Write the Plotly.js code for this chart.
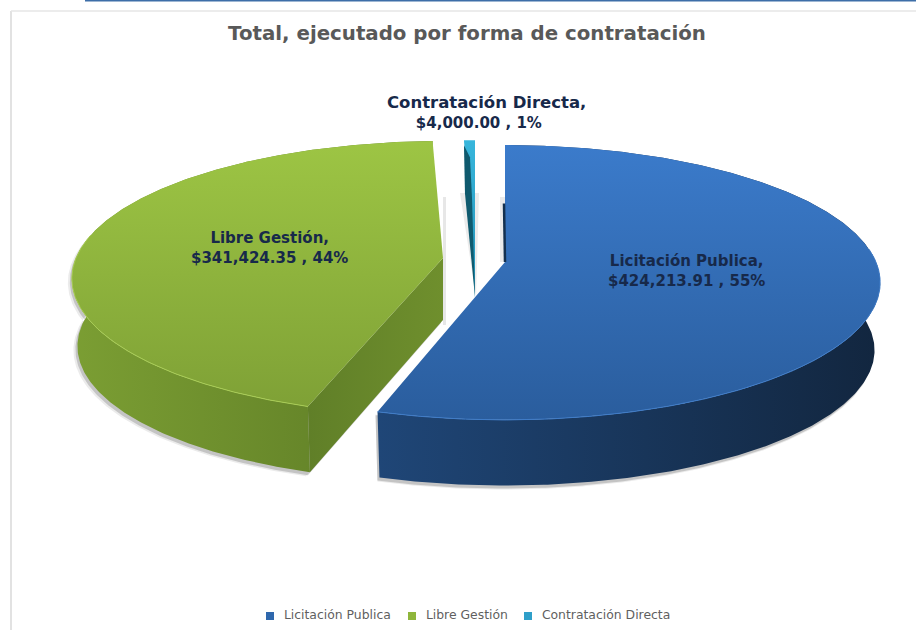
<!DOCTYPE html>
<html>
<head>
<meta charset="utf-8">
<script src="https://cdn.plot.ly/plotly-3.0.1.min.js"></script>
<style>html,body{margin:0;padding:0;background:#fff}#chart{width:916px;height:630px}</style>
</head>
<body>
<div id="chart"></div>
<script>
const categories = ['Licitación Publica', 'Libre Gestión', 'Contratación Directa'];
const values = [424213.91, 341424.35, 4000.00];
const amountLabels = ['$424,213.91', '$341,424.35', '$4,000.00'];
const percentLabels = ['55%', '44%', '1%'];
const legendColors = ['#2f68ad', '#8fb63c', '#2f9fc9'];

// Perspective view of the pie: slices are placed from the values
const K = 0.149, RY = 134.4, DEPTH = 68, RING = 0.985;
const geom = [
  {cx: 505, cy: 262, rx: 371, sc: 1, warp: 0.9935},
  {cx: 443, cy: 258, rx: 367, sc: 1, warp: 1},
  {cx: 475, cy: 297, rx: 290, sc: 1.34, warp: 1}
];
const total = values.reduce((a, b) => a + b, 0);
const pt = (g, deg, ring, dy) => {
  const t = deg * g.warp * Math.PI / 180, u = Math.sin(t), v = Math.cos(t);
  const s = g.sc / (1 + K * v) * ring;
  return [g.cx + g.rx * u * s, g.cy - RY * v * s + dy];
};
const arc = (g, a, b, ring, dy) => {
  const n = Math.max(2, Math.ceil(Math.abs(b - a) * 2)), out = [];
  for (let i = 0; i <= n; i++) out.push(pt(g, a + (b - a) * i / n, ring, dy));
  return out;
};
let acc = 0;
const spans = values.map(val => { const a = acc; acc += val / total * 360; return [a, acc]; });

const poly = (pts, extra) => Object.assign({
  x: pts.map(p => p[0]), y: pts.map(p => p[1]), mode: 'lines', fill: 'toself',
  line: {width: 0}, hoverinfo: 'skip', showlegend: false, type: 'scatter'
}, extra);
const grad = (type, c0, c1) => ({type, colorscale: [[0, c0], [1, c1]]});
const moved = (pts, dx, dy) => pts.map(p => [p[0] + dx, p[1] + dy]);

const wallOf = (g, a, b) => arc(g, a, b, 1, 0).concat(arc(g, b, a, RING, DEPTH));
const cutOf = (g, deg) => {
  const o = pt(g, deg, 1, 0), ob = pt(g, deg, RING, DEPTH);
  return [o, [g.cx, g.cy], [g.cx, g.cy + DEPTH - 6], ob];
};
const topOf = (g, a, b) => [[g.cx, g.cy]].concat(arc(g, a, b, 1, 0));

const [gBlue, gGreen, gCyan] = geom;
const [sBlue, sGreen, sCyan] = spans;
const traces = [];

// soft shadows
[[-4, 4, 'rgba(60,60,60,0.10)'], [-2, 3, 'rgba(60,60,60,0.22)']].forEach(([dx, dy, c]) => {
  traces.push(poly(moved(wallOf(gGreen, sGreen[0], sGreen[1]).concat(cutOf(gGreen, sGreen[0])), dx, dy), {fillcolor: c}));
  traces.push(poly(moved(wallOf(gBlue, 40, sBlue[1]), -2, dy), {fillcolor: c}));
});

// Libre Gestión
traces.push(poly(wallOf(gGreen, sGreen[0], sGreen[1]), {fillgradient: grad('horizontal', '#7b9e33', '#5c7a25')}));
traces.push(poly(cutOf(gGreen, sGreen[0]), {fillgradient: grad('horizontal', '#607f28', '#6f8f2d')}));
traces.push(poly(topOf(gGreen, sGreen[0], sGreen[1]), {fillgradient: grad('vertical', '#7fa136', '#9dc544')}));
const rimG = arc(gGreen, sGreen[0], 280, 1, 0);
traces.push({type: 'scatter', mode: 'lines', x: rimG.map(p => p[0]), y: rimG.map(p => p[1]),
  line: {color: '#a8cc55', width: 1}, hoverinfo: 'skip', showlegend: false});

// Contratación Directa
traces.push(poly(topOf(gCyan, sCyan[0], sCyan[1]), {fillgradient: grad('vertical', '#2390b5', '#37b6dc')}));
const cutC = pt(gCyan, sCyan[0], 1, 0);
traces.push(poly([[gCyan.cx, gCyan.cy], moved([cutC], 1, 53)[0], moved([cutC], 0, 5)[0], moved([cutC], 6, 17)[0], moved([cutC], 8, 57)[0]], {fillcolor: '#0f5a6e'}));

// Licitación Publica
traces.push(poly(wallOf(gBlue, sBlue[0], sBlue[1]), {fillgradient: grad('horizontal', '#1f4677', '#12263f')}));
traces.push(poly(topOf(gBlue, sBlue[0], sBlue[1]), {fillgradient: grad('vertical', '#2a5d9d', '#3b7bcb')}));
const rimB = arc(gBlue, 85, sBlue[1], 1, 0);
traces.push({type: 'scatter', mode: 'lines', x: rimB.map(p => p[0]), y: rimB.map(p => p[1]),
  line: {color: '#3f7cc8', width: 1}, hoverinfo: 'skip', showlegend: false});
const edgeB = pt(gBlue, sBlue[0], 1, 0);
traces.push({type: 'scatter', mode: 'lines', x: [gBlue.cx, gBlue.cx - 1], y: [gBlue.cy, (gBlue.cy + edgeB[1]) / 2 + 0],
  line: {color: '#14304f', width: 2.5}, hoverinfo: 'skip', showlegend: false});

// legend row
const legendX = [270, 412, 528];
categories.forEach((name, i) => traces.push({
  type: 'scatter', mode: 'markers+text', x: [legendX[i]], y: [616], text: ['\u00a0\u00a0' + name], textposition: 'middle right',
  textfont: {family: 'DejaVu Sans', size: 12.4, color: '#5f5f5f'},
  marker: {symbol: 'square', size: 8, color: legendColors[i]}, showlegend: false, hoverinfo: 'skip', cliponaxis: false
}));

const labelPos = [[686, 271], [269, 248], [486, 112]];
const annotations = categories.map((name, i) => ({
  xref: 'x', yref: 'y', x: labelPos[i][0], y: labelPos[i][1], showarrow: false,
  align: 'center', xanchor: 'center', yanchor: 'middle',
  text: `<b>${i === 2 ? `<span style="font-size:16.5px">${name},</span>` : name + ','}<br>${amountLabels[i]} , ${percentLabels[i]}${i === 2 ? '\u00a0\u00a0\u00a0' : ''}</b>`,
  font: {family: 'DejaVu Sans', size: 15, color: '#17294a'}
}));

const layout = {
  width: 916, height: 630, margin: {l: 0, r: 0, t: 0, b: 0},
  paper_bgcolor: '#fff', plot_bgcolor: '#fff',
  title: {text: '<b>Total, ejecutado por forma de contratación</b>', x: 467 / 916, xanchor: 'center', y: 1 - 33 / 630, yanchor: 'middle',
    font: {family: 'DejaVu Sans', size: 19.8, color: '#595959'}},
  xaxis: {range: [0, 916], visible: false, fixedrange: true},
  yaxis: {range: [630, 0], visible: false, fixedrange: true},
  showlegend: false,
  annotations,
  shapes: [
    {type: 'line', xref: 'x', yref: 'y', x0: 11, x1: 11, y0: 11, y1: 630, line: {color: '#e2e2e2', width: 2}},
    {type: 'line', xref: 'x', yref: 'y', x0: 11, x1: 916, y0: 11, y1: 11, line: {color: '#e6e6e6', width: 1.5}},
    {type: 'line', xref: 'x', yref: 'y', x0: 85, x1: 916, y0: 0.5, y1: 0.5, line: {color: '#3d6ea8', width: 2}},
    {type: 'path', layer: 'below', xref: 'x', yref: 'y', path: 'M443,197 L446,197 L446,325 L443,325 Z', fillcolor: 'rgba(120,120,120,0.18)', line: {width: 0}},
    {type: 'path', layer: 'below', xref: 'x', yref: 'y', path: 'M500,197 L505,197 L505,262 L500,262 Z', fillcolor: 'rgba(120,120,120,0.15)', line: {width: 0}},
    {type: 'path', layer: 'below', xref: 'x', yref: 'y', path: 'M460,193 L479,193 L476,297 Z', fillcolor: 'rgba(120,120,120,0.15)', line: {width: 0}}
  ]
};
Plotly.newPlot('chart', traces, layout, {displayModeBar: false});
</script>
</body>
</html>
